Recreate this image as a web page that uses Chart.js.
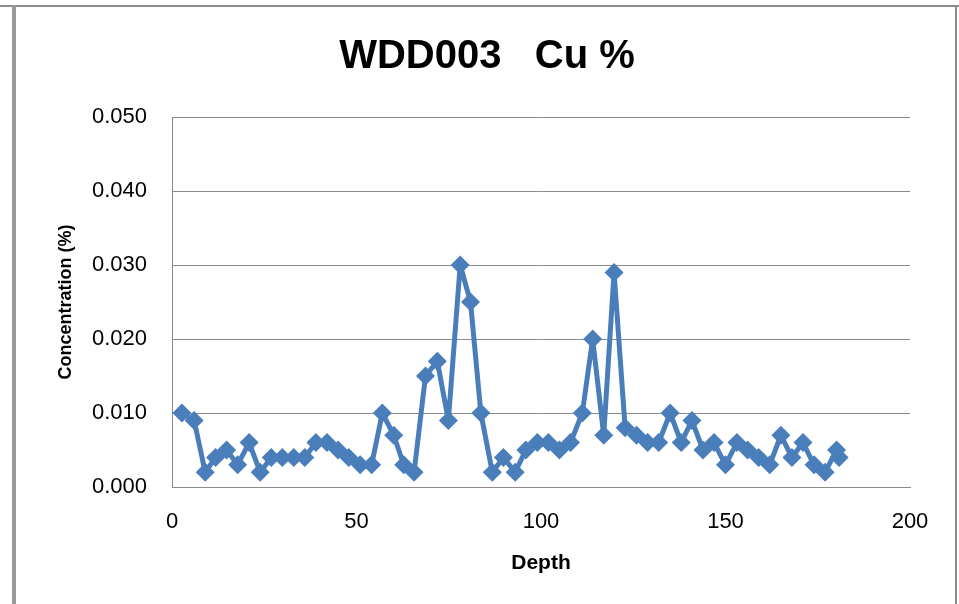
<!DOCTYPE html>
<html>
<head>
<meta charset="utf-8">
<script src="https://cdn.jsdelivr.net/npm/chart.js@4/dist/chart.umd.min.js"></script>
<style>
  body { margin: 0; background: #fff; }
  #wrap { position: relative; width: 959px; height: 604px; overflow: hidden; }
  #chart { position: absolute; left: 0; top: 0; }
  .edge { position: absolute; background: #8c8c8c; }
</style>
</head>
<body>
<div id="wrap">
  <div class="edge" style="left:0;top:5px;width:959px;height:2px;"></div>
  <div class="edge" style="left:12px;top:5px;width:4px;height:599px;background:#9a9a9a;"></div>
  <div class="edge" style="left:955px;top:5px;width:2px;height:599px;"></div>
  <canvas id="chart" width="959" height="604"></canvas>
</div>
<script>
// depth (m) and Cu concentration (%)
let depth = [2.7, 6.0, 9.0, 11.8, 14.8, 17.8, 20.9, 23.9, 26.9, 29.9,
             33.0, 36.0, 39.0, 42.0, 45.0, 47.9, 51.0, 54.1, 57.0, 60.1,
             62.8, 65.6, 68.7, 71.9, 74.9, 78.1, 80.9, 83.7, 86.8, 89.8,
             93.0, 95.9, 99.0, 102.0, 105.0, 108.0, 111.2, 114.0, 117.0, 119.8,
             122.8, 125.9, 128.9, 131.9, 135.0, 138.0, 140.9, 143.9, 146.9, 150.0,
             153.1, 156.0, 159.0, 162.0, 165.0, 168.0, 171.0, 174.0, 177.0, 180.1,
             180.8];
let cuPct = [0.010, 0.009, 0.002, 0.004, 0.005, 0.003, 0.006, 0.002, 0.004, 0.004,
             0.004, 0.004, 0.006, 0.006, 0.005, 0.004, 0.003, 0.003, 0.010, 0.007,
             0.003, 0.002, 0.015, 0.017, 0.009, 0.030, 0.025, 0.010, 0.002, 0.004,
             0.002, 0.005, 0.006, 0.006, 0.005, 0.006, 0.010, 0.020, 0.007, 0.029,
             0.008, 0.007, 0.006, 0.006, 0.010, 0.006, 0.009, 0.005, 0.006, 0.003,
             0.006, 0.005, 0.004, 0.003, 0.007, 0.004, 0.006, 0.003, 0.002, 0.005,
             0.004];

let xTicks = [0, 50, 100, 150, 200];
let yTicks = [0, 0.01, 0.02, 0.03, 0.04, 0.05];

let fontFamily = "'Liberation Sans', Arial, sans-serif";
let blue = "#4a7ebb";
let gridGray = "#8a8a8a";

let points = depth.map((d, i) => ({ x: d, y: cuPct[i] }));

let chart = new Chart(document.getElementById("chart"), {
    type: 'scatter',
    data: {
        datasets: [{
            label: 'Cu %',
            data: points,
            showLine: true,
            borderColor: blue,
            borderWidth: 5,
            borderJoinStyle: 'round',
            backgroundColor: blue,
            pointStyle: 'rectRot',
            pointRadius: 9.5,
            pointBorderWidth: 0,
            pointBackgroundColor: blue
        }]
    },
    options: {
        responsive: false,
        animation: false,
        layout: { padding: { top: 8, left: 18, right: 3, bottom: 10 } },
        plugins: {
            legend: { display: false },
            tooltip: { enabled: false },
            title: {
                display: true,
                text: 'WDD003   Cu %',
                color: '#000',
                font: { family: fontFamily, size: 40, weight: 'bold', lineHeight: 1.2 },
                padding: { top: 25, bottom: 36 }
            }
        },
        scales: {
            x: {
                type: 'linear',
                min: 0,
                max: 200,
                afterBuildTicks: axis => { axis.ticks = xTicks.map(v => ({ value: v })); },
                afterFit: axis => { axis.height = 107; },
                ticks: {
                    color: '#000',
                    padding: 22,
                    maxRotation: 0,
                    font: { family: fontFamily, size: 22 }
                },
                grid: { display: false, drawTicks: false },
                border: { display: true, color: gridGray, width: 1 },
                title: {
                    display: true,
                    text: 'Depth',
                    color: '#000',
                    font: { family: fontFamily, size: 21, weight: 'bold', lineHeight: 1.2 },
                    padding: { top: 0, bottom: 18 }
                }
            },
            y: {
                min: 0,
                max: 0.05,
                afterBuildTicks: axis => { axis.ticks = yTicks.map(v => ({ value: v })); },
                afterFit: axis => { axis.width = 154; },
                ticks: {
                    color: '#000',
                    padding: 25,
                    font: { family: fontFamily, size: 22 },
                    callback: v => v.toFixed(3)
                },
                grid: { color: gridGray, lineWidth: 1, drawTicks: false },
                border: { display: true, color: gridGray, width: 1 },
                title: {
                    display: true,
                    text: 'Concentration (%)',
                    color: '#000',
                    font: { family: fontFamily, size: 18, weight: 'bold', lineHeight: 1.2 },
                    padding: { top: 37, bottom: 0 }
                }
            },
            // empty right-hand spacer so the title centres on the frame like the original
            yRight: {
                position: 'right',
                display: true,
                afterFit: axis => { axis.width = 46; },
                ticks: { display: false },
                grid: { display: false, drawTicks: false },
                border: { display: false }
            }
        }
    }
});
</script>
</body>
</html>
